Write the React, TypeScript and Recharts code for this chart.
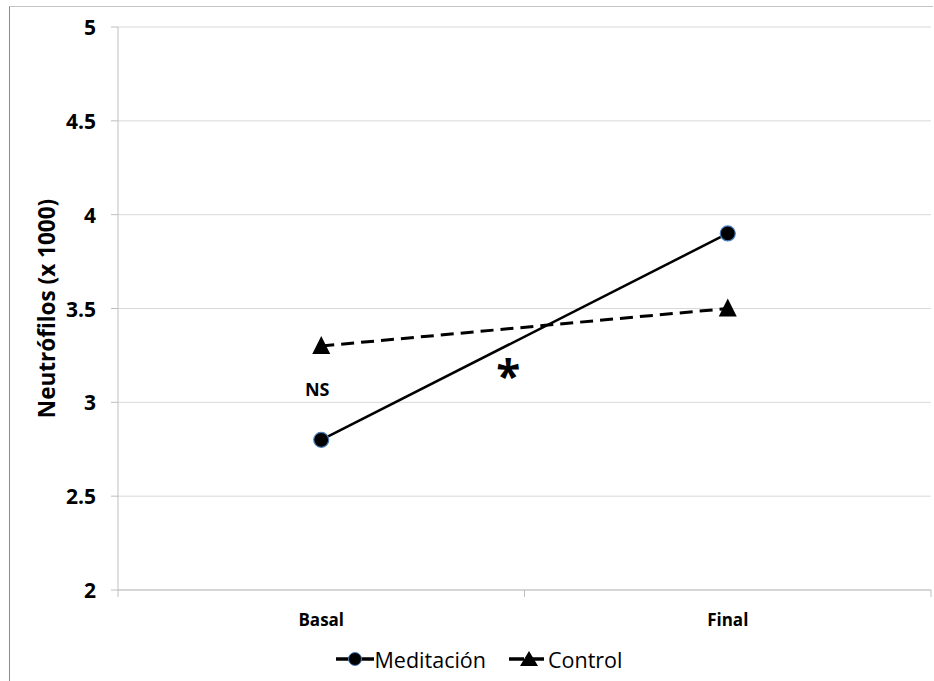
import React from 'react';
import {
  LineChart,
  Line,
  XAxis,
  YAxis,
  CartesianGrid,
  Legend,
  ReferenceDot,
} from 'recharts';

// Measurement moments and the two groups
const categories = ['Basal', 'Final'];
const meditacion = [2.8, 3.9];
const control = [3.3, 3.5];
const yTicks = [2, 2.5, 3, 3.5, 4, 4.5, 5];

// Significance notes, anchored in data units (x in category bands, y in value)
const notes = [
  { x: 0.49, y: 3.07, text: 'NS', size: 18 },
  { x: 0.96, y: 3.145, text: '*', size: 44 },
];

const FONT = '"Open Sans", sans-serif';

// Each category occupies one unit band on a numeric axis: centre at i + 0.5
const data = categories.map((c, i) => ({
  x: i + 0.5,
  name: c,
  meditacion: meditacion[i],
  control: control[i],
}));

const CircleDot = (props: any) => {
  const { cx, cy } = props;
  if (cx == null || cy == null) return null;
  return <circle cx={cx} cy={cy} r={7.5} fill="#000" stroke="#4a7ebb" strokeWidth={1.2} />;
};

const TriangleDot = (props: any) => {
  const { cx, cy } = props;
  if (cx == null || cy == null) return null;
  return (
    <polygon
      points={`${cx},${cy - 10} ${cx - 9},${cy + 8} ${cx + 9},${cy + 8}`}
      fill="#000"
    />
  );
};

// Integer ticks mark band edges; half ticks carry the category name
const XTick = (props: any) => {
  const { x, y, payload } = props;
  const v = payload.value;
  if (Number.isInteger(v)) {
    return <line x1={x} x2={x} y1={y} y2={y + 7} stroke="#bfbfbf" strokeWidth={1} />;
  }
  return (
    <text x={x} y={y + 36} textAnchor="middle" fontFamily={FONT} fontWeight={700} fontSize={17} fill="#000">
      {categories[Math.floor(v)]}
    </text>
  );
};

const YTick = (props: any) => {
  const { x, y, payload } = props;
  return (
    <text
      x={x - 13}
      y={y}
      textAnchor="end"
      dominantBaseline="central"
      fontFamily={FONT}
      fontWeight={700}
      fontSize={21}
      fill="#000"
    >
      {String(payload.value)}
    </text>
  );
};

const YTitle = (props: any) => {
  const { viewBox } = props;
  const cx = viewBox.x + 46;
  const cy = viewBox.y + viewBox.height / 2;
  return (
    <text
      x={cx}
      y={cy}
      transform={`rotate(-90 ${cx} ${cy})`}
      textAnchor="middle"
      dominantBaseline="central"
      fontFamily={FONT}
      fontWeight={700}
      fontSize={22.5}
      fill="#000"
    >
      Neutrófilos (x 1000)
    </text>
  );
};

const LegendIcon = ({ kind }: { kind: 'circle' | 'triangle' }) => (
  <svg width={40} height={20} style={{ display: 'block' }}>
    <line
      x1={1}
      x2={39}
      y1={10}
      y2={10}
      stroke="#000"
      strokeWidth={3.5}
      strokeDasharray={kind === 'triangle' ? '15 5' : undefined}
    />
    {kind === 'circle' ? (
      <circle cx={20} cy={10} r={6.5} fill="#000" stroke="#4a7ebb" strokeWidth={1} />
    ) : (
      <polygon points="21,2 12,17 30,17" fill="#000" />
    )}
  </svg>
);

const LegendContent = () => (
  <div
    style={{
      height: 44,
      display: 'flex',
      alignItems: 'center',
      justifyContent: 'center',
      paddingLeft: 26,
      fontFamily: FONT,
      fontSize: 21.5,
      color: '#000',
    }}
  >
    <span style={{ display: 'flex', alignItems: 'center' }}>
      <LegendIcon kind="circle" />
      <span>Meditación</span>
    </span>
    <span style={{ display: 'flex', alignItems: 'center', marginLeft: 22 }}>
      <LegendIcon kind="triangle" />
      <span>Control</span>
    </span>
  </div>
);

const NoteLabel = (text: string, size: number) => (props: any) => {
  const { viewBox } = props;
  const x = viewBox.x + (viewBox.width || 0) / 2;
  const y = viewBox.y + (viewBox.height || 0) / 2;
  return (
    <text
      x={x}
      y={y}
      textAnchor="middle"
      dominantBaseline="central"
      fontFamily={FONT}
      fontWeight={700}
      fontSize={size}
      fill="#000"
    >
      {text}
    </text>
  );
};

export default function App() {
  return (
    <div style={{ position: 'absolute', left: 0, top: 0, width: 934, height: 681, background: '#fff' }}>
      <LineChart
        width={934}
        height={681}
        data={data}
        margin={{ top: 27, right: 3, left: 0, bottom: 0 }}
        style={{ position: 'absolute', left: 0, top: 0 }}
      >
        <CartesianGrid vertical={false} stroke="#d9d9d9" strokeWidth={1} />
        <XAxis
          dataKey="x"
          type="number"
          domain={[0, 2]}
          ticks={[0, 0.5, 1, 1.5, 2]}
          interval={0}
          height={47}
          tickLine={false}
          tickSize={0}
          tickMargin={0}
          axisLine={{ stroke: '#bfbfbf', strokeWidth: 1 }}
          tick={<XTick />}
        />
        <YAxis
          type="number"
          domain={[2, 5]}
          ticks={yTicks}
          interval={0}
          width={118}
          tickSize={7}
          tickMargin={2}
          tickLine={{ stroke: '#bfbfbf' }}
          axisLine={{ stroke: '#bfbfbf', strokeWidth: 1 }}
          tick={<YTick />}
          label={<YTitle />}
        />
        <Legend verticalAlign="bottom" content={<LegendContent />} />
        <Line
          type="linear"
          dataKey="meditacion"
          name="Meditación"
          stroke="#000"
          strokeWidth={2.5}
          dot={<CircleDot />}
          activeDot={false}
          isAnimationActive={false}
        />
        <Line
          type="linear"
          dataKey="control"
          name="Control"
          stroke="#000"
          strokeWidth={3}
          strokeDasharray="13 7"
          dot={<TriangleDot />}
          activeDot={false}
          isAnimationActive={false}
        />
        {notes.map((n) => (
          <ReferenceDot
            key={n.text}
            x={n.x}
            y={n.y}
            r={0}
            fill="none"
            stroke="none"
            label={NoteLabel(n.text, n.size)}
          />
        ))}
      </LineChart>
      {/* chart-area frame: left and top edges */}
      <div
        style={{
          position: 'absolute',
          left: 9,
          top: 6,
          width: 924,
          height: 675,
          boxSizing: 'border-box',
          borderLeft: '1px solid #8c8c8c',
          borderTop: '1px solid #c4c4c4',
          pointerEvents: 'none',
          zIndex: 2,
        }}
      />
    </div>
  );
}
